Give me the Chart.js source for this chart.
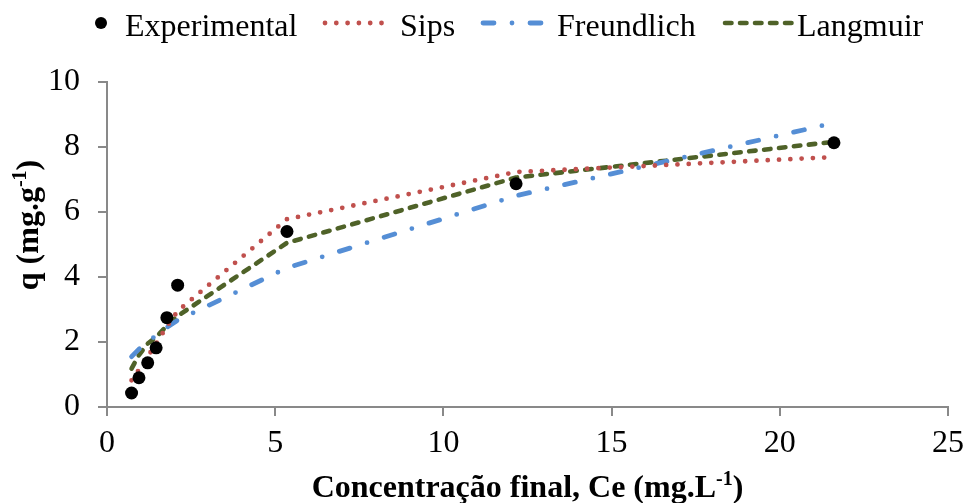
<!DOCTYPE html>
<html>
<head>
<meta charset="utf-8">
<script src="https://cdn.jsdelivr.net/npm/chart.js@4/dist/chart.umd.min.js"></script>
<style>
  body { margin: 0; background: #fff; }
  #wrap { width: 965px; height: 503px; }
</style>
</head>
<body>
<div id="wrap"><canvas id="isoChart" width="965" height="503"></canvas></div>
<script>
// values
const ceValues = [0.73, 0.95, 1.21, 1.46, 1.78, 2.10, 5.35, 12.16, 21.61];
const qExperimental = [0.43, 0.90, 1.36, 1.82, 2.75, 3.75, 5.40, 6.87, 8.13];
const qSips = [0.82, 1.15, 1.55, 1.95, 2.48, 2.95, 5.78, 7.23, 7.69];
const qFreundlich = [1.55, 1.78, 2.00, 2.20, 2.45, 2.67, 4.28, 6.50, 8.74];
const qLangmuir = [1.18, 1.60, 1.95, 2.15, 2.50, 2.80, 5.05, 7.06, 8.16];
const seriesNames = ["Experimental", "Sips", "Freundlich", "Langmuir"];

const serif = "'Liberation Serif', 'Times New Roman', serif";

function toPoints(ys) {
    return ceValues.map((x, i) => ({ x: x, y: ys[i] }));
}

function modelLine(label, ys, color, dash, width) {
    return {
        label: label,
        data: toPoints(ys),
        showLine: true,
        borderColor: color,
        backgroundColor: color,
        borderWidth: width,
        borderDash: dash,
        borderCapStyle: "round",
        borderJoinStyle: "round",
        pointRadius: 0,
        pointHoverRadius: 0
    };
}

// text with a superscript part, centered on cx
function drawRich(ctx, parts, cx, y, size) {
    const supSize = Math.round(size * 0.62);
    let total = 0;
    parts.forEach(p => {
        ctx.font = "bold " + (p.sup ? supSize : size) + "px " + serif;
        p.w = ctx.measureText(p.t).width;
        total += p.w;
    });
    let x = cx - total / 2;
    parts.forEach(p => {
        ctx.font = "bold " + (p.sup ? supSize : size) + "px " + serif;
        ctx.fillText(p.t, x, p.sup ? y - size * 0.38 : y);
        x += p.w;
    });
}

// legend key boxes: [key start, key end, text start]
const legendSlots = [[95, 107, 125], [323, 385, 400], [481, 546, 557], [723, 794, 797]];

const titlesAndLegend = {
    id: "titlesAndLegend",
    afterDraw(chart) {
        const ctx = chart.ctx;
        const area = chart.chartArea;
        ctx.save();
        ctx.fillStyle = "#000";
        ctx.textAlign = "left";
        ctx.textBaseline = "alphabetic";

        // x title
        drawRich(ctx, [{ t: "Concentração final, Ce (mg.L" }, { t: "-1", sup: true }, { t: ")" }],
            (area.left + area.right) / 2, 497, 32);

        // y title
        ctx.save();
        ctx.translate(38, 225);
        ctx.rotate(-Math.PI / 2);
        drawRich(ctx, [{ t: "q (mg.g" }, { t: "-1", sup: true }, { t: ")" }], 0, 0, 32);
        ctx.restore();

        // legend
        const ly = 23;
        ctx.font = "32px " + serif;
        chart.data.datasets.forEach((ds, i) => {
            const slot = legendSlots[i];
            if (i === 0) {
                ctx.beginPath();
                ctx.arc((slot[0] + slot[1]) / 2, ly, 6, 0, Math.PI * 2);
                ctx.fillStyle = ds.backgroundColor;
                ctx.fill();
            } else {
                ctx.save();
                ctx.strokeStyle = ds.borderColor;
                ctx.lineWidth = ds.borderWidth;
                ctx.lineCap = "round";
                ctx.setLineDash(ds.borderDash);
                ctx.beginPath();
                ctx.moveTo(slot[0] + 2, ly);
                ctx.lineTo(slot[1], ly);
                ctx.stroke();
                ctx.restore();
            }
            ctx.fillStyle = "#000";
            ctx.fillText(ds.label, slot[2], 36);
        });
        ctx.restore();
    }
};

const axisColor = "#898989";
const tickFont = { family: serif, size: 32 };

const ctx = document.getElementById("isoChart").getContext("2d");
const isoChart = new Chart(ctx, {
    type: "scatter",
    data: {
        datasets: [
            {
                label: seriesNames[0],
                data: toPoints(qExperimental),
                backgroundColor: "#000",
                borderColor: "#000",
                pointRadius: 6.5,
                pointBorderWidth: 0,
                showLine: false
            },
            modelLine(seriesNames[1], qSips, "#C0504D", [0, 11.3], 4.8),
            modelLine(seriesNames[2], qFreundlich, "#558ED5", [11, 18, 0, 18], 4.8),
            modelLine(seriesNames[3], qLangmuir, "#4F6228", [6.5, 8.5], 4.6)
        ]
    },
    options: {
        responsive: false,
        animation: false,
        layout: { padding: { top: 82, right: 17, left: 0, bottom: 0 } },
        plugins: {
            legend: { display: false },
            tooltip: { enabled: false }
        },
        scales: {
            x: {
                type: "linear",
                min: 0,
                max: 25,
                afterFit: s => { s.height = 96; s.paddingLeft = 0; s.paddingRight = 0; },
                ticks: { stepSize: 5, font: tickFont, color: "#000", padding: 8, maxRotation: 0 },
                grid: { drawOnChartArea: false, tickLength: 9, color: axisColor, lineWidth: 2 },
                border: { color: axisColor, width: 2 }
            },
            y: {
                min: 0,
                max: 10,
                afterFit: s => { s.width = 107; s.paddingTop = 0; s.paddingBottom = 0; },
                ticks: { stepSize: 2, font: tickFont, color: "#000", padding: 18 },
                grid: { drawOnChartArea: false, tickLength: 9, color: axisColor, lineWidth: 2 },
                border: { color: axisColor, width: 2 }
            }
        }
    },
    plugins: [titlesAndLegend]
});
</script>
</body>
</html>
